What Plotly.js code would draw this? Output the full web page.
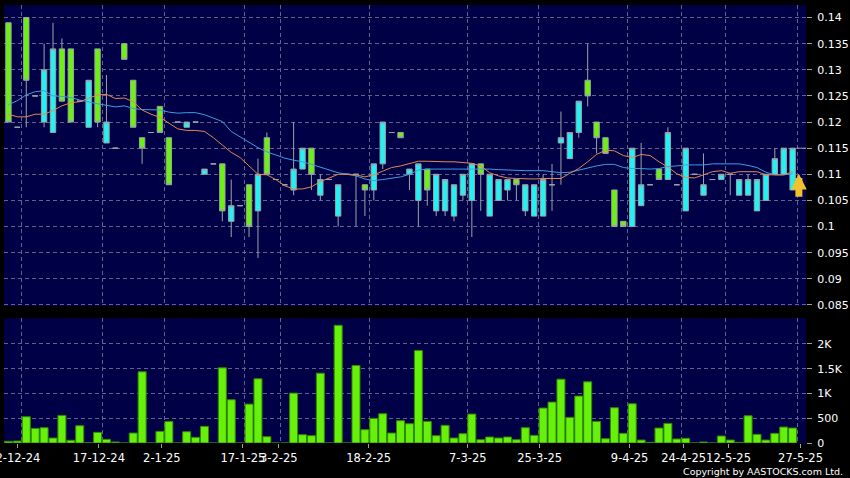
<!DOCTYPE html>
<html>
<head>
<meta charset="utf-8">
<script src="https://cdn.plot.ly/plotly-3.0.1.min.js"></script>
<style>
  html, body { margin: 0; padding: 0; background: #000000; }
  #chart { width: 850px; height: 478px; }
</style>
</head>
<body>
<div id="chart"></div>
<script>
// ---- data (one entry per trading slot) ----
const openP  = [0.139,0.119,0.140,0.125,0.120,0.118,0.134,0.134,0.124,0.119,
                0.134,0.116,0.115,0.135,0.128,0.117,0.118,0.123,0.117,0.120,
                0.119,0.120,0.110,0.112,0.112,0.101,0.104,0.108,0.103,0.117,
                0.109,0.108,0.107,0.111,0.115,0.106,0.109,0.102,0.110,0.110,
                0.108,0.107,0.112,0.118,0.118,0.110,0.105,0.111,0.103,0.103,
                0.102,0.106,0.105,0.112,0.102,0.105,0.107,0.109,0.103,0.102,
                0.102,0.108,0.116,0.113,0.118,0.128,0.120,0.117,0.107,0.101,
                0.100,0.104,0.108,0.111,0.109,0.108,0.103,0.110,0.106,0.109,
                0.109,0.110,0.106,0.106,0.103,0.105,0.110,0.110,0.107];
const highP  = [0.139,0.119,0.140,0.125,0.135,0.139,0.136,0.134,0.124,0.128,
                0.134,0.129,0.115,0.135,0.128,0.117,0.118,0.123,0.117,0.120,
                0.120,0.120,0.111,0.112,0.112,0.109,0.104,0.108,0.113,0.118,
                0.109,0.108,0.120,0.115,0.115,0.110,0.109,0.108,0.110,0.110,
                0.108,0.112,0.120,0.118,0.118,0.111,0.112,0.111,0.110,0.109,
                0.108,0.110,0.112,0.112,0.110,0.109,0.109,0.109,0.108,0.108,
                0.110,0.112,0.122,0.118,0.124,0.135,0.120,0.117,0.107,0.101,
                0.115,0.116,0.108,0.111,0.119,0.108,0.115,0.110,0.114,0.109,
                0.110,0.110,0.109,0.110,0.109,0.110,0.115,0.115,0.115];
const lowP   = [0.120,0.119,0.119,0.125,0.119,0.118,0.124,0.120,0.124,0.119,
                0.119,0.116,0.115,0.132,0.119,0.112,0.118,0.118,0.108,0.120,
                0.119,0.120,0.110,0.112,0.101,0.098,0.104,0.098,0.094,0.110,
                0.109,0.108,0.106,0.111,0.107,0.105,0.109,0.100,0.110,0.100,
                0.102,0.105,0.111,0.118,0.117,0.107,0.100,0.104,0.102,0.102,
                0.101,0.105,0.098,0.103,0.102,0.105,0.105,0.105,0.102,0.102,
                0.102,0.103,0.108,0.113,0.117,0.123,0.114,0.114,0.100,0.100,
                0.100,0.104,0.108,0.109,0.109,0.108,0.103,0.110,0.106,0.109,
                0.109,0.106,0.106,0.106,0.103,0.105,0.110,0.110,0.107];
const closeP = [0.120,0.119,0.128,0.125,0.130,0.134,0.124,0.120,0.124,0.128,
                0.120,0.120,0.115,0.132,0.119,0.115,0.118,0.118,0.108,0.120,
                0.120,0.120,0.111,0.112,0.103,0.104,0.104,0.100,0.110,0.110,
                0.109,0.108,0.111,0.115,0.110,0.109,0.109,0.108,0.110,0.110,
                0.107,0.112,0.120,0.118,0.117,0.111,0.112,0.107,0.110,0.109,
                0.108,0.110,0.112,0.110,0.110,0.109,0.109,0.108,0.108,0.108,
                0.109,0.108,0.117,0.118,0.124,0.125,0.117,0.114,0.100,0.100,
                0.115,0.108,0.108,0.109,0.118,0.108,0.115,0.110,0.108,0.109,
                0.110,0.110,0.109,0.109,0.109,0.110,0.113,0.115,0.115];
const volume = [34,40,530,295,309,100,557,54,349,5,
                215,74,20,0,201,1437,0,235,436,0,
                228,114,336,0,1517,873,0,785,1296,128,
                0,0,1007,168,148,1410,0,2376,0,1564,
                269,497,591,201,450,389,1866,436,148,356,
                101,188,584,67,121,101,121,67,309,154,
                705,826,1289,517,947,1235,436,87,712,195,
                792,60,13,302,396,81,94,0,20,0,
                141,60,13,550,175,60,195,322,302];
const maShort = [0.1215,0.1210,0.1210,0.1215,0.1215,0.1222,0.1231,0.1237,0.1239,0.1245,
                 0.1252,0.1253,0.1245,0.1246,0.1239,0.1223,0.1215,0.1209,0.1198,0.1187,
                 0.1184,0.1184,0.1182,0.1170,0.1156,0.1142,0.1132,0.1115,0.1100,0.1099,
                 0.1090,0.1078,0.1072,0.1072,0.1076,0.1086,0.1093,0.1100,0.1100,0.1099,
                 0.1095,0.1099,0.1106,0.1113,0.1116,0.1120,0.1125,0.1125,0.1124,0.1124,
                 0.1124,0.1123,0.1121,0.1116,0.1103,0.1097,0.1093,0.1092,0.1091,0.1091,
                 0.1092,0.1092,0.1092,0.1102,0.1111,0.1124,0.1138,0.1146,0.1145,0.1136,
                 0.1132,0.1138,0.1136,0.1124,0.1114,0.1101,0.1094,0.1093,0.1099,0.1105,
                 0.1107,0.1102,0.1105,0.1105,0.1105,0.1099,0.1099,0.1099,0.1105];
const maLong  = [0.1233,0.1241,0.1252,0.1258,0.1260,0.1250,0.1249,0.1247,0.1242,0.1238,
                 0.1235,0.1232,0.1229,0.1231,0.1226,0.1224,0.1223,0.1223,0.1219,0.1217,
                 0.1218,0.1218,0.1214,0.1207,0.1201,0.1182,0.1172,0.1162,0.1151,0.1143,
                 0.1137,0.1131,0.1127,0.1124,0.1119,0.1114,0.1109,0.1103,0.1100,0.1097,
                 0.1091,0.1088,0.1090,0.1092,0.1095,0.1100,0.1108,0.1110,0.1110,0.1110,
                 0.1111,0.1111,0.1111,0.1111,0.1110,0.1109,0.1108,0.1108,0.1107,0.1107,
                 0.1107,0.1105,0.1103,0.1104,0.1108,0.1113,0.1116,0.1119,0.1119,0.1113,
                 0.1111,0.1111,0.1110,0.1111,0.1115,0.1116,0.1118,0.1118,0.1118,0.1120,
                 0.1120,0.1121,0.1120,0.1117,0.1113,0.1104,0.1099,0.1099,0.1101];
// vertical grid lines sit between slots; the date labels/tick marks sit on a slightly wider scale
const gridSlots      = [1.5, 10.5, 17.5, 26.5, 30.5, 40.5, 51.5, 59.5, 69.5, 75.5, 80.5, 88.5];
const dateTickSlots  = [1.06, 10.15, 17.22, 26.3, 30.34, 40.43, 51.54, 59.62, 69.71, 75.77, 80.81, 88.89];
const dateTickLabels = ['2-12-24','17-12-24','2-1-25','17-1-25','3-2-25','18-2-25',
                        '7-3-25','25-3-25','9-4-25','24-4-25','12-5-25','27-5-25'];
const priceTicks = [0.085,0.09,0.095,0.1,0.105,0.11,0.115,0.12,0.125,0.13,0.135,0.14];
const volTicks = [0, 500, 1000, 1500, 2000];
const volTickLabels = ['0','500','1K','1.5K','2K'];

// ---- build chart ----
const idx = closeP.map((_, i) => i);
const last = closeP.length - 1;
const slotCount = closeP.length + 1;
const xRange = [-0.5, slotCount - 0.5];

const GRID = '#62628a';
const TXT = '#ffffff';
const FONT = 'DejaVu Sans, sans-serif';

const traces = [
  {
    type: 'candlestick', x: idx, open: openP, high: highP, low: lowP, close: closeP,
    xaxis: 'x', yaxis: 'y',
    increasing: { line: { color: '#9aa4a8', width: 1 }, fillcolor: '#22f2f2' },
    decreasing: { line: { color: '#9aa4a8', width: 1 }, fillcolor: '#6cf20c' },
    whiskerwidth: 0, hoverinfo: 'skip'
  },
  {
    type: 'scatter', mode: 'lines', x: idx, y: maLong, xaxis: 'x', yaxis: 'y',
    line: { color: '#3b9fe0', width: 1 }, hoverinfo: 'skip'
  },
  {
    type: 'scatter', mode: 'lines', x: idx, y: maShort, xaxis: 'x', yaxis: 'y',
    line: { color: '#e58850', width: 1 }, hoverinfo: 'skip'
  },
  {
    type: 'scatter', mode: 'lines', x: [last + 0.45, slotCount - 0.5], y: [closeP[last], closeP[last]],
    xaxis: 'x', yaxis: 'y', line: { color: '#a0a0a0', width: 1 }, hoverinfo: 'skip'
  },
  {
    type: 'bar', x: idx, y: volume, xaxis: 'x', yaxis: 'y2',
    marker: { color: '#66f00a', line: { color: '#2f8a00', width: 1 } },
    hoverinfo: 'skip'
  },
  // carrier so the date-label axis is drawn (nothing visible)
  {
    type: 'scatter', mode: 'markers', x: [xRange[0]], y: [0], xaxis: 'x2', yaxis: 'y2',
    marker: { opacity: 0, size: 1 }, hoverinfo: 'skip', cliponaxis: true
  }
];

const layout = {
  width: 850, height: 478,
  paper_bgcolor: '#000000', plot_bgcolor: '#000046',
  margin: { l: 4, r: 44, t: 5, b: 35 },
  showlegend: false,
  bargap: 0.1, boxgap: 0.14,
  font: { family: FONT, color: TXT, size: 11 },
  xaxis: {
    range: xRange, anchor: 'y2',
    tickmode: 'array', tickvals: gridSlots, showticklabels: false, ticks: '',
    showgrid: true, gridcolor: GRID, griddash: '4px,3px', gridwidth: 1,
    zeroline: false, showline: false,
    rangeslider: { visible: false }
  },
  xaxis2: {
    range: xRange, anchor: 'y2', overlaying: 'x', side: 'bottom',
    tickmode: 'array', tickvals: dateTickSlots, ticktext: dateTickLabels,
    tickangle: 0, ticklabeloverflow: 'allow',
    ticks: 'outside', ticklen: 4, tickcolor: '#a0a0a0',
    showgrid: false, zeroline: false, showline: false,
    tickfont: { family: FONT, color: TXT, size: 11.5 }
  },
  yaxis: {
    domain: [0.3128, 1], range: [0.0848, 0.1424], side: 'right', anchor: 'x',
    tickmode: 'array', tickvals: priceTicks, ticktext: priceTicks.map(v => String(v)),
    ticks: 'outside', ticklen: 5, tickcolor: '#a0a0a0', ticklabelstandoff: 3,
    showgrid: true, gridcolor: GRID, griddash: '4px,3px', gridwidth: 1,
    zeroline: false, showline: false,
    tickfont: { family: FONT, color: TXT, size: 11 }
  },
  yaxis2: {
    domain: [0, 0.2847], range: [0, 2517], side: 'right', anchor: 'x',
    tickmode: 'array', tickvals: volTicks, ticktext: volTickLabels,
    ticks: 'outside', ticklen: 5, tickcolor: '#a0a0a0', ticklabelstandoff: 3,
    showgrid: true, gridcolor: GRID, griddash: '4px,3px', gridwidth: 1,
    zeroline: false, showline: false,
    tickfont: { family: FONT, color: TXT, size: 11 }
  },
  annotations: [
    {
      xref: 'x', yref: 'y', axref: 'x', ayref: 'y',
      x: last + 0.7, y: closeP[last] - 0.0049,
      ax: last + 0.7, ay: closeP[last] - 0.0096,
      text: '', showarrow: true, arrowhead: 2, arrowsize: 0.45, arrowwidth: 7,
      arrowcolor: '#f2c12e'
    },
    {
      xref: 'paper', yref: 'paper', x: 1.0486, y: -0.066,
      xanchor: 'right', yanchor: 'middle', showarrow: false,
      text: 'Copyright by AASTOCKS.com Ltd.',
      font: { family: FONT, color: TXT, size: 9.5 }
    }
  ]
};

Plotly.newPlot('chart', traces, layout, { staticPlot: true, displayModeBar: false });
</script>
</body>
</html>
